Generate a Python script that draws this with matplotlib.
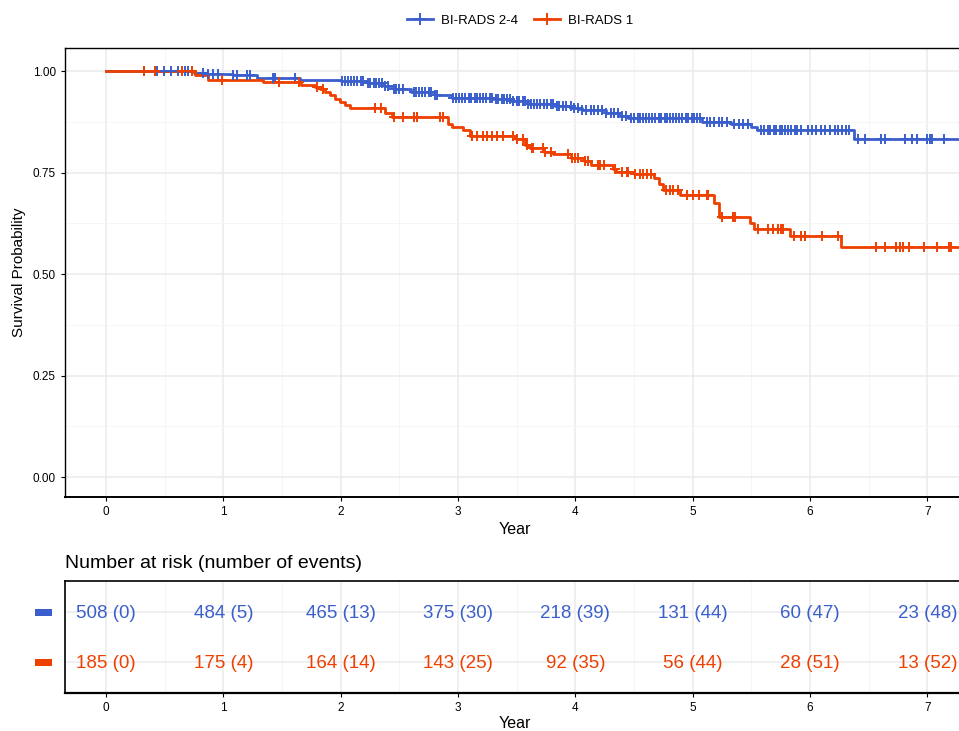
import numpy as np
import matplotlib
matplotlib.use("Agg")
import matplotlib.pyplot as plt
from matplotlib.patches import Rectangle
from matplotlib.ticker import MultipleLocator

plt.rcParams['font.family'] = ['Liberation Sans', 'DejaVu Sans']

# ---------------- data ----------------
groups = ["BI-RADS 2-4", "BI-RADS 1"]
colors = ["#3A5FCD", "#EE4000"]

blue_times = [0.75, 0.86, 1.08, 1.29, 1.65, 2.00, 2.23, 2.37, 2.45, 2.60, 2.80, 2.95,
              3.30, 3.45, 3.60, 3.83, 3.97, 4.06, 4.26, 4.37, 4.45, 5.08, 5.33, 5.50,
              5.55, 6.37]
blue_surv = [0.995, 0.992, 0.990, 0.983, 0.978, 0.975, 0.970, 0.964, 0.957, 0.949,
             0.941, 0.935, 0.931, 0.926, 0.920, 0.915, 0.908, 0.904, 0.896, 0.890,
             0.884, 0.875, 0.869, 0.863, 0.855, 0.834]

red_times = [0.76, 0.87, 1.34, 1.66, 1.78, 1.82, 1.87, 1.91, 1.95, 1.99, 2.04, 2.08,
             2.38, 2.44, 2.91, 2.95, 3.04, 3.10, 3.49, 3.57, 3.61, 3.73, 3.81, 3.96,
             4.07, 4.13, 4.32, 4.35, 4.50, 4.67, 4.71, 4.75, 4.89, 5.18, 5.22, 5.49,
             5.52, 5.83, 6.26]
red_surv = [0.991, 0.979, 0.973, 0.967, 0.962, 0.955, 0.948, 0.940, 0.932, 0.924,
            0.916, 0.910, 0.896, 0.887, 0.871, 0.862, 0.855, 0.841, 0.834, 0.818,
            0.810, 0.801, 0.795, 0.787, 0.779, 0.770, 0.760, 0.752, 0.747, 0.736,
            0.723, 0.707, 0.696, 0.675, 0.640, 0.625, 0.610, 0.594, 0.568]

blue_censor = [0.32, 0.43, 0.49, 0.55, 0.61, 0.67, 0.70, 0.83, 0.87, 0.91, 0.95, 1.08,
               1.12, 1.20, 1.23, 1.42, 1.44, 1.61, 2.01, 2.04, 2.06, 2.09, 2.11, 2.14,
               2.17, 2.19, 2.23, 2.25, 2.28, 2.30, 2.33, 2.35, 2.38, 2.40, 2.45, 2.47,
               2.50, 2.53, 2.62, 2.64, 2.67, 2.69, 2.72, 2.75, 2.77, 2.80, 2.82, 2.96,
               2.98, 3.01, 3.03, 3.06, 3.09, 3.11, 3.14, 3.16, 3.19, 3.21, 3.24, 3.27,
               3.29, 3.32, 3.34, 3.37, 3.39, 3.42, 3.44, 3.47, 3.50, 3.52, 3.55, 3.57,
               3.60, 3.62, 3.65, 3.67, 3.70, 3.73, 3.76, 3.79, 3.81, 3.84, 3.86, 3.89,
               3.92, 3.96, 3.99, 4.02, 4.06, 4.09, 4.13, 4.16, 4.19, 4.23, 4.26, 4.30,
               4.33, 4.36, 4.40, 4.43, 4.47, 4.50, 4.53, 4.55, 4.58, 4.60, 4.63, 4.65,
               4.68, 4.71, 4.73, 4.76, 4.78, 4.81, 4.83, 4.86, 4.88, 4.91, 4.94, 4.96,
               4.99, 5.01, 5.04, 5.06, 5.12, 5.15, 5.18, 5.22, 5.25, 5.29, 5.35, 5.39,
               5.43, 5.47, 5.58, 5.61, 5.64, 5.66, 5.69, 5.71, 5.74, 5.76, 5.79,
               5.81, 5.84, 5.87, 5.89, 5.92, 5.98, 6.02, 6.05, 6.09, 6.13, 6.17, 6.21,
               6.24, 6.27, 6.31, 6.33, 6.41, 6.47, 6.60, 6.64, 6.81, 6.87, 6.91,
               7.00, 7.02, 7.04, 7.14]

red_censor = [0.32, 0.42, 0.65, 0.73, 0.99, 1.47, 1.64, 1.80, 1.85, 2.29, 2.34, 2.45,
              2.53, 2.62, 2.65, 2.85, 2.87, 3.12, 3.16, 3.21, 3.25, 3.29, 3.33, 3.38,
              3.47, 3.50, 3.55, 3.59, 3.63, 3.64, 3.72, 3.74, 3.79, 3.94, 3.97, 4.00,
              4.02, 4.08, 4.11, 4.19, 4.21, 4.24, 4.34, 4.40, 4.44, 4.45, 4.51, 4.55,
              4.58, 4.61, 4.64, 4.77, 4.81, 4.83, 4.87, 4.95, 5.00, 5.05, 5.12, 5.13,
              5.25, 5.34, 5.36, 5.56, 5.64, 5.68, 5.73, 5.75, 5.77, 5.86, 5.92, 5.96,
              6.10, 6.24, 6.56, 6.64, 6.73, 6.77, 6.79, 6.84, 6.97, 7.08, 7.18, 7.20]

follow_up_end = 7.4

risk_years = [0, 1, 2, 3, 4, 5, 6, 7]
blue_at_risk = [508, 484, 465, 375, 218, 131, 60, 23]
blue_events = [0, 5, 13, 30, 39, 44, 47, 48]
red_at_risk = [185, 175, 164, 143, 92, 56, 28, 13]
red_events = [0, 4, 14, 25, 35, 44, 51, 52]

# ---------------- figure ----------------
W, H = 959, 731
fig = plt.figure(figsize=(W / 100, H / 100), dpi=100)

def fx(px):
    return px / W

def fy(py):
    return 1 - py / H

XMIN, XMAX = -0.35, 7.32
ax = fig.add_axes([fx(65), fy(497), fx(965) - fx(65), fy(48) - fy(497)])
ax.set_xlim(XMIN, XMAX)
ax.set_ylim(-0.049, 1.057)

grid_major = "#EBEBEB"
ax.xaxis.set_major_locator(MultipleLocator(1))
ax.xaxis.set_minor_locator(MultipleLocator(0.5))
ax.yaxis.set_major_locator(MultipleLocator(0.25))
ax.yaxis.set_minor_locator(MultipleLocator(0.125))
ax.grid(which="major", color=grid_major, lw=1.1)
ax.grid(which="minor", color="#F4F4F4", lw=0.6)
ax.set_axisbelow(True)

ax.set_yticks([0, 0.25, 0.5, 0.75, 1.0])
ax.set_yticklabels(["0.00", "0.25", "0.50", "0.75", "1.00"])
ax.tick_params(which="major", length=3, width=0.8, labelsize=8.5, colors="black")
ax.tick_params(which="minor", length=0)
ax.set_xlabel("Year", fontsize=11.5, labelpad=2.5)
ax.set_ylabel("Survival Probability", fontsize=11, labelpad=5)
for s in ax.spines.values():
    s.set_color("black")
    s.set_linewidth(1.0)
ax.spines["bottom"].set_linewidth(1.4)

series = [
    (blue_times, blue_surv, blue_censor),
    (red_times, red_surv, red_censor),
]
handles = []
for (t, s, c), col, name in zip(series, colors, groups):
    t = np.asarray(t)
    s = np.asarray(s)
    xs = np.r_[0, t, follow_up_end]
    ys = np.r_[1.0, s, s[-1]]
    ax.step(xs, ys, where="post", color=col, lw=2.0, zorder=3)
    c = np.asarray(c)
    cs = np.r_[1.0, s][np.searchsorted(t, c, side="right")]
    ax.plot(c, cs, ls="none", marker="+", ms=7, mew=1.4, color=col, zorder=4)
    h, = ax.plot([], [], color=col, lw=2.0, marker="+", ms=9, mew=1.4)
    h.set_label(name)
    handles.append(h)

fig.legend(handles=handles, loc="center", bbox_to_anchor=(fx(520), fy(21)),
           ncol=2, frameon=False, fontsize=9.5, handlelength=2.0,
           columnspacing=1.2, handletextpad=0.6)

# ---------------- risk table ----------------
tx = fig.add_axes([fx(65), fy(693), fx(965) - fx(65), fy(581) - fy(693)])
tx.set_xlim(XMIN, XMAX)
tx.set_ylim(0.38, 2.62)
tx.xaxis.set_major_locator(MultipleLocator(1))
tx.xaxis.set_minor_locator(MultipleLocator(0.5))
tx.set_yticks([1, 2])
tx.set_yticklabels([])
tx.grid(which="major", color=grid_major, lw=1.1)
tx.grid(which="minor", axis="x", color="#F4F4F4", lw=0.6)
tx.set_axisbelow(True)
tx.tick_params(axis="y", length=0)
tx.tick_params(axis="x", which="major", length=3, width=0.8, labelsize=8.5)
tx.tick_params(which="minor", length=0)
tx.set_xlabel("Year", fontsize=11.5, labelpad=1.5)
for s in tx.spines.values():
    s.set_color("black")
    s.set_linewidth(1.2)
tx.spines["bottom"].set_linewidth(1.6)

rows = [(2, blue_at_risk, blue_events, colors[0]),
        (1, red_at_risk, red_events, colors[1])]
for yrow, nr, ne, col in rows:
    for yr, n, e in zip(risk_years, nr, ne):
        tx.text(yr, yrow, f"{n} ({e})", ha="center", va="center_baseline",
                fontsize=13.5, color=col, clip_on=False)

fig.text(fx(65), fy(562), "Number at risk (number of events)", ha="left",
         va="center_baseline", fontsize=14)

for py, col in [(612, colors[0]), (662, colors[1])]:
    fig.add_artist(Rectangle((fx(35), fy(py + 3.5)), fx(17), 7 / H,
                             transform=fig.transFigure, color=col, lw=0))

fig.savefig("out.png", dpi=100)
